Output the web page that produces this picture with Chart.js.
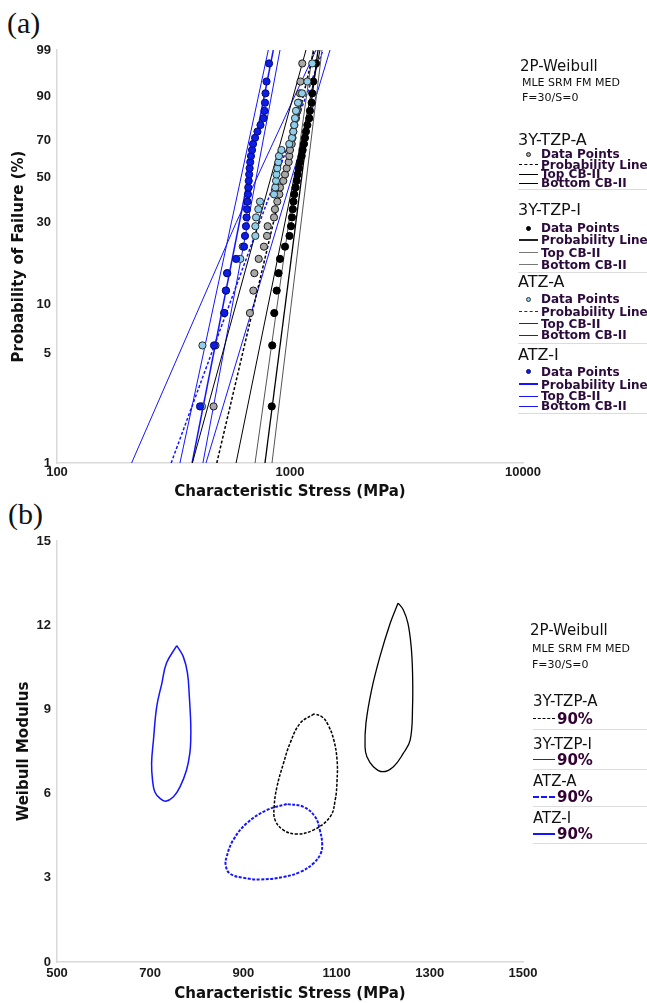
<!DOCTYPE html>
<html>
<head>
<meta charset="utf-8">
<script src="https://cdn.jsdelivr.net/npm/chart.js@4.4.0/dist/chart.umd.min.js"></script>
<style>
body { margin: 0; width: 647px; height: 1003px; overflow: hidden; background: #fff; position: relative; font-family: "DejaVu Sans", sans-serif; }
canvas { position: absolute; left: 0; }
.t { position: absolute; white-space: nowrap; color: #111; line-height: 20px; }
.g16 { font-size: 16px; }
.g15 { font-size: 15px; }
.s { font-size: 11px; }
.b { font-weight: bold; font-size: 12px; color: #2b0b3b; }
.p { font-weight: bold; font-size: 15px; color: #330033; }
.lab { position: absolute; font-family: "Liberation Serif", serif; font-size: 30px; line-height: 34px; color: #111; }
</style>
</head>
<body>
<div class="lab" style="left:7px;top:6px">(a)</div>
<div class="lab" style="left:8px;top:497px">(b)</div>
<canvas id="chartA" width="647" height="503" style="top:0"></canvas>
<canvas id="chartB" width="647" height="498" style="top:505px"></canvas>
<script>
// ---- (a) probability plot ----
const probTicks = [1, 5, 10, 30, 50, 70, 90, 99];
const stressTicks = [100, 1000, 10000];
// median ranks (%) of the 30 failures
const medianRank = [2.30, 5.59, 8.88, 12.17, 15.46, 18.75, 22.04, 25.33, 28.62, 31.91,
  35.20, 38.49, 41.78, 45.07, 48.36, 51.64, 54.93, 58.22, 61.51, 64.80,
  68.09, 71.38, 74.67, 77.96, 81.25, 84.54, 87.83, 91.12, 94.41, 97.70];

// failure stresses (MPa), ordered
const tzpA = [470, 479, 673, 696, 703, 734, 773, 797, 802, 854, 862, 882, 900, 906, 936,
  952, 968, 987, 993, 1000, 1017, 1025, 1033, 1043, 1061, 1077, 1090, 1104, 1109, 1129];
const tzpI = [835, 839, 856, 877, 893, 906, 952, 995, 1010, 1020, 1028, 1035, 1043, 1056, 1069,
  1079, 1093, 1104, 1122, 1133, 1148, 1160, 1171, 1187, 1210, 1218, 1239, 1246, 1259, 1293];
const atzA = [419, 421, 521, 531, 538, 612, 627, 710, 710, 715, 731, 743, 854, 865, 871,
  875, 882, 891, 897, 919, 993, 1020, 1033, 1043, 1051, 1061, 1082, 1126, 1187, 1246];
const atzI = [411, 472, 523, 531, 537, 587, 635, 641, 647, 651, 654, 657, 660, 662, 665,
  668, 671, 675, 680, 687, 694, 708, 725, 747, 770, 777, 781, 785, 793, 813];

// fitted lines and bounds: stress at 1% and 99%
const lineProb = [1, 99];
const tzpA_line = [485, 1268], tzpA_top = [587, 1345], tzpA_bot = [381, 1171];
const tzpI_line = [781, 1319], tzpI_top = [837, 1372], tzpI_bot = [708, 1255];
const atzA_line = [309, 1386], atzA_top = [436, 1485];
const atzA_botProb = [1, 30, 99], atzA_bot = [209, 588, 1293];
const atzI_line = [380, 848], atzI_top = [423, 906], atzI_bot = [337, 807];

// ---- (b) contours ----
const etaTicks = [500, 700, 900, 1100, 1300, 1500];
const betaTicks = [0, 3, 6, 9, 12, 15];
const tzpA_eta = [1052, 1022, 1000, 986, 972, 966, 968, 986, 1014, 1050, 1086, 1097, 1101, 1101, 1094, 1082, 1069];
const tzpA_beta = [8.84, 8.51, 7.79, 7.08, 6.24, 5.53, 5.06, 4.70, 4.56, 4.70, 5.17, 5.77, 6.48, 7.20, 7.91, 8.44, 8.73];
const tzpI_eta = [1232, 1215, 1193, 1175, 1163, 1161, 1165, 1179, 1199, 1222, 1243, 1258, 1263, 1263, 1260, 1253, 1243];
const tzpI_beta = [12.79, 12.07, 10.88, 9.69, 8.51, 7.67, 7.31, 6.96, 6.78, 6.96, 7.43, 7.91, 9.10, 10.29, 11.24, 12.07, 12.55];
const atzA_eta = [993, 950, 907, 878, 864, 862, 871, 900, 936, 986, 1022, 1050, 1066, 1069, 1064, 1054, 1029];
const atzA_beta = [5.63, 5.41, 4.94, 4.34, 3.75, 3.45, 3.15, 3.00, 2.94, 3.03, 3.21, 3.51, 3.87, 4.22, 4.70, 5.17, 5.53];
const atzI_eta = [757, 735, 725, 714, 707, 703, 705, 710, 721, 733, 750, 764, 778, 785, 787, 787, 784, 780, 771];
const atzI_beta = [11.27, 10.65, 9.93, 9.10, 7.91, 7.08, 6.48, 6.06, 5.83, 5.73, 5.89, 6.24, 6.84, 7.43, 7.91, 8.50, 9.45, 10.29, 10.88];

const BLUE = '#1414ff';
const tickFont = { family: 'Liberation Sans', size: 13, weight: 'bold' };
const titleFont = { family: 'DejaVu Sans', size: 15, weight: 'bold' };

function weib(p) { return Math.log(-Math.log(1 - p / 100)); }
function pts(xs, ps) { return xs.map((x, i) => ({ x: x, y: weib(ps[i]) })); }
function loop(xs, ys) {
    const d = xs.map((x, i) => ({ x: x, y: ys[i] }));
    d.push(d[0]);
    return d;
}
function pointSet(xs, fill, border) {
    return { data: pts(xs, medianRank), showLine: false, pointRadius: 3.6, pointBorderWidth: 1,
        backgroundColor: fill, borderColor: border, order: 1 };
}
function lineSet(xs, ps, color, width, dash) {
    return { data: pts(xs, ps), showLine: true, pointRadius: 0, borderColor: color,
        borderWidth: width, borderDash: dash || [], order: 2 };
}
function loopSet(xs, ys, color, width, dash) {
    return { data: loop(xs, ys), showLine: true, pointRadius: 0, borderColor: color,
        borderWidth: width, borderDash: dash || [], tension: 0.4 };
}

const common = {
    responsive: false, animation: false, devicePixelRatio: 1,
    plugins: { legend: { display: false }, tooltip: { enabled: false } }
};
const noGrid = { display: false, drawTicks: false, tickLength: 0 };
const axisBorder = { color: '#d9d9d9', width: 1.5 };

new Chart(document.getElementById('chartA'), {
    type: 'scatter',
    data: {
        datasets: [
            pointSet(atzI, '#0a1ee6', '#08087a'),
            pointSet(atzA, '#8dcfea', '#2a2a2a'),
            pointSet(tzpI, '#000000', '#000000'),
            pointSet(tzpA, '#a8a8a8', '#1a1a1a'),
            lineSet(tzpA_line, lineProb, '#000', 1.5, [3, 2]),
            lineSet(tzpA_top, lineProb, '#000', 1),
            lineSet(tzpA_bot, lineProb, '#000', 1),
            lineSet(tzpI_line, lineProb, '#000', 1.3),
            lineSet(tzpI_top, lineProb, '#555', 1),
            lineSet(tzpI_bot, lineProb, '#555', 1),
            lineSet(atzA_line, lineProb, BLUE, 1.5, [3, 2]),
            lineSet(atzA_top, lineProb, BLUE, 1),
            lineSet(atzA_bot, atzA_botProb, BLUE, 1),
            lineSet(atzI_line, lineProb, BLUE, 1.5),
            lineSet(atzI_top, lineProb, BLUE, 1),
            lineSet(atzI_bot, lineProb, BLUE, 1)
        ]
    },
    options: Object.assign({}, common, {
        layout: { padding: { top: 50, right: 124, left: 0, bottom: 0 } },
        scales: {
            x: {
                type: 'logarithmic', min: 100, max: 10000,
                afterBuildTicks: s => { s.ticks = stressTicks.map(v => ({ value: v })); },
                afterFit: s => { s.height = 40; },
                ticks: { callback: v => String(v), font: tickFont, color: '#1a1a1a', padding: 2, maxRotation: 0, autoSkip: false },
                grid: noGrid,
                border: axisBorder,
                title: { display: true, text: 'Characteristic Stress (MPa)', font: titleFont, color: '#111', padding: { top: 0, bottom: 2 } }
            },
            y: {
                min: weib(probTicks[0]), max: weib(probTicks[probTicks.length - 1]),
                afterBuildTicks: s => { s.ticks = probTicks.map(p => ({ value: weib(p) })); },
                afterFit: s => { s.width = 57; },
                ticks: { callback: (v, i) => String(probTicks[i]), font: tickFont, color: '#1a1a1a', padding: 6, autoSkip: false },
                grid: noGrid,
                border: axisBorder,
                title: { display: true, text: 'Probability of Failure (%)', font: titleFont, color: '#111', padding: { top: 10, bottom: 0 } }
            }
        }
    })
});

new Chart(document.getElementById('chartB'), {
    type: 'scatter',
    data: {
        datasets: [
            loopSet(tzpA_eta, tzpA_beta, '#000', 1.5, [3, 1.5]),
            loopSet(tzpI_eta, tzpI_beta, '#000', 1.3),
            loopSet(atzA_eta, atzA_beta, BLUE, 2, [3, 1.5]),
            loopSet(atzI_eta, atzI_beta, BLUE, 1.5)
        ]
    },
    options: Object.assign({}, common, {
        layout: { padding: { top: 36, right: 124, left: 0, bottom: 0 } },
        scales: {
            x: {
                type: 'linear', min: 500, max: 1500,
                afterBuildTicks: s => { s.ticks = etaTicks.map(v => ({ value: v })); },
                afterFit: s => { s.height = 41; },
                ticks: { callback: v => String(v), font: tickFont, color: '#1a1a1a', padding: 4, maxRotation: 0, autoSkip: false },
                grid: noGrid,
                border: axisBorder,
                title: { display: true, text: 'Characteristic Stress (MPa)', font: titleFont, color: '#111', padding: { top: 0, bottom: 0 } }
            },
            y: {
                min: 0, max: 15,
                afterBuildTicks: s => { s.ticks = betaTicks.map(v => ({ value: v })); },
                afterFit: s => { s.width = 57; },
                ticks: { callback: v => String(v), font: tickFont, color: '#1a1a1a', padding: 6, autoSkip: false },
                grid: noGrid,
                border: axisBorder,
                title: { display: true, text: 'Weibull Modulus', font: titleFont, color: '#111', padding: { top: 15, bottom: 0 } }
            }
        }
    })
});

// ---- legends ----
function add(el) { document.body.appendChild(el); return el; }
function txt(x, cy, s, cls) {
    const d = document.createElement('div');
    d.className = 't ' + cls;
    d.textContent = s;
    d.style.left = x + 'px';
    d.style.top = (cy - 10) + 'px';
    return add(d);
}
function ln(x1, x2, y, color, w, dashed) {
    const d = document.createElement('div');
    d.style.cssText = 'position:absolute;left:' + x1 + 'px;width:' + (x2 - x1) + 'px;top:' + (y - w / 2) +
        'px;height:0;border-top:' + w + 'px ' + (dashed ? 'dashed ' : 'solid ') + color;
    return add(d);
}
function sep(x, y) {
    const d = document.createElement('div');
    d.style.cssText = 'position:absolute;left:' + x + 'px;right:0;top:' + y + 'px;height:1px;background:#dcdcdc';
    return add(d);
}
function dot(x, y, r, fill, border) {
    const d = document.createElement('div');
    d.style.cssText = 'position:absolute;left:' + (x - r) + 'px;top:' + (y - r) + 'px;width:' + (2 * r - 2) +
        'px;height:' + (2 * r - 2) + 'px;border-radius:50%;background:' + fill + ';border:1px solid ' + border;
    return add(d);
}

txt(520, 66, '2P-Weibull', 'g15');
txt(522, 83, 'MLE SRM FM MED', 's');
txt(522, 98, 'F=30/S=0', 's');

const groupsA = [
    { name: '3Y-TZP-A', y: 139.5, items: [154, 164.5, 174, 183], sep: 188.5,
      dot: ['#a8a8a8', '#222'], line: ['#000', 1.5, true], cb: ['#000', 1] },
    { name: '3Y-TZP-I', y: 210, items: [228, 240, 252.5, 264.5], sep: 271.5,
      dot: ['#000', '#000'], line: ['#222', 2, false], cb: ['#777', 1.5] },
    { name: 'ATZ-A', y: 282, items: [299, 311.5, 323.5, 335.3], sep: 342.7,
      dot: ['#8dcfea', '#333'], line: [BLUE, 1.5, true], cb: [BLUE, 1.3] },
    { name: 'ATZ-I', y: 354.5, items: [371.7, 384.5, 396, 406], sep: 412.7,
      dot: ['#0a1ee6', '#08087a'], line: [BLUE, 2.5, false], cb: [BLUE, 1] }
];
const itemNames = ['Data Points', 'Probability Line', 'Top CB-II', 'Bottom CB-II'];
groupsA.forEach(g => {
    txt(518, g.y, g.name, 'g16');
    g.items.forEach((y, i) => txt(541, y, itemNames[i], 'b'));
    dot(528.5, g.items[0], 2.5, g.dot[0], g.dot[1]);
    ln(519, 538, g.items[1], g.line[0], g.line[1], g.line[2]);
    ln(519, 538, g.items[2], g.cb[0], g.cb[1], false);
    ln(519, 538, g.items[3], g.cb[0], g.cb[1], false);
    sep(518, g.sep);
});

txt(530, 630, '2P-Weibull', 'g15');
txt(532, 649, 'MLE SRM FM MED', 's');
txt(532, 665, 'F=30/S=0', 's');
const groupsB = [
    { name: '3Y-TZP-A', y: 701, item: 719, sep: 729, line: ['#000', 1.5, true] },
    { name: '3Y-TZP-I', y: 744, item: 760, sep: 769, line: ['#333', 1.5, false] },
    { name: 'ATZ-A', y: 781, item: 797, sep: 806, line: [BLUE, 2, true] },
    { name: 'ATZ-I', y: 818, item: 834, sep: 843, line: [BLUE, 2, false] }
];
groupsB.forEach(g => {
    txt(533, g.y, g.name, 'g15');
    ln(533, 555, g.item, g.line[0], g.line[1], g.line[2]);
    txt(557, g.item, '90%', 'p');
    sep(533, g.sep);
});
</script>
</body>
</html>
